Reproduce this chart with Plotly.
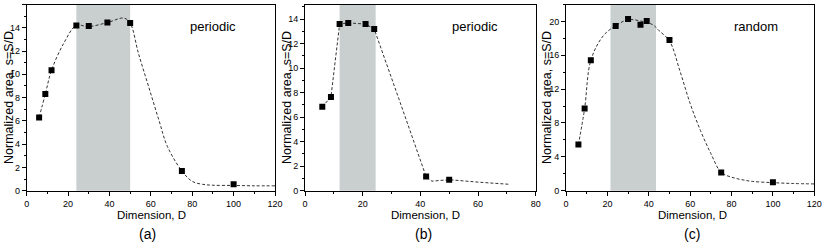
import plotly.graph_objects as go

# ---------------- data ----------------
# panel (a) periodic
a_D = [6, 9, 12, 24, 30, 39, 50, 75, 100]
a_s = [6.3, 8.3, 10.35, 14.2, 14.15, 14.45, 14.4, 1.7, 0.55]
a_curve_D = [6, 9, 12, 18, 24, 30, 39, 47, 50, 54, 59, 64, 68, 75, 80, 85, 90, 100, 110, 120]
a_curve_s = [6.3, 8.3, 10.35, 12.7, 14.2, 14.1, 14.45, 14.83, 14.4, 11.8, 8.9, 6.0, 3.8, 1.7, 0.8, 0.55, 0.47, 0.45, 0.42, 0.42]
a_band = [24, 50]

# panel (b) periodic
b_D = [6, 9, 12, 15, 21, 24, 42, 50]
b_s = [6.85, 7.65, 13.6, 13.7, 13.6, 13.2, 1.15, 0.9]
b_curve_D = [6, 9, 12, 15, 21, 24, 33, 42, 44, 50, 60, 71]
b_curve_s = [6.85, 7.65, 13.6, 13.7, 13.6, 13.2, 7.2, 1.15, 0.78, 0.9, 0.7, 0.52]
b_band = [12, 24.5]

# panel (c) random
c_D = [6, 9, 12, 24, 30, 36, 39, 50, 75, 100]
c_s = [5.45, 9.7, 15.4, 19.45, 20.3, 19.6, 20.05, 17.8, 2.15, 1.0]
c_curve_D = [6, 9, 12, 18, 24, 30, 36, 42, 45, 50, 55, 60, 65, 70, 75, 80, 85, 90, 100, 110, 120]
c_curve_s = [5.45, 9.7, 15.4, 18.3, 19.5, 20.2, 20.05, 19.6, 18.9, 17.7, 14.2, 10.3, 7.1, 4.4, 2.15, 1.6, 1.3, 1.1, 0.95, 0.85, 0.8]
c_band = [21.5, 43.5]

panel_titles = ["periodic", "periodic", "random"]
panel_labels = ["(a)", "(b)", "(c)"]
x_title = "Dimension, D"
y_title = "Normalized area, s=S/D"

# ---------------- layout geometry ----------------
W, H = 822, 244
FONT = "Liberation Sans, Arial, sans-serif"
xdom_px = [(26.7, 275.0), (305.0, 535.7), (566.0, 814.3)]
ydom_px = (4.5, 190.7)
xranges = [[0, 120], [0, 80], [0, 120]]
yranges = [[0, 16], [0, 15.2], [0, 22]]
xdticks = [20, 20, 20]
ydticks = [2, 2, 4]
ytitle_x = [9, 287, 547]
xtitle_x = [151, 425, 692]
lab_x = [147, 423, 692]
ann_pos = [(213, 26), (475, 26), (756, 26)]

fig = go.Figure()

panels = [
    (a_D, a_s, a_curve_D, a_curve_s, a_band, "spline"),
    (b_D, b_s, b_curve_D, b_curve_s, b_band, "linear"),
    (c_D, c_s, c_curve_D, c_curve_s, c_band, "spline"),
]

ydom = [1 - ydom_px[1] / H, 1 - ydom_px[0] / H]
shapes = []
annotations = []


def ann(text, px, py, size, angle=0):
    return dict(text=text, x=px / W, y=1 - py / H, xref="paper", yref="paper",
                xanchor="center", yanchor="middle", showarrow=False, textangle=angle,
                font=dict(family=FONT, size=size, color="#000000"))


for i, (D, s, cD, cs, band, shape) in enumerate(panels):
    sfx = "" if i == 0 else str(i + 1)
    xa, ya = "x" + sfx, "y" + sfx
    fig.add_trace(go.Scatter(
        x=cD, y=cs, mode="lines", xaxis=xa, yaxis=ya,
        line=dict(color="#333333", width=1, dash="3px,2px", shape=shape, smoothing=1.0),
        hoverinfo="skip", showlegend=False))
    fig.add_trace(go.Scatter(
        x=D, y=s, mode="markers", xaxis=xa, yaxis=ya,
        marker=dict(symbol="square", size=6, color="#000000"),
        showlegend=False))
    shapes.append(dict(type="rect", xref=xa, yref=ya + " domain", x0=band[0], x1=band[1],
                       y0=0, y1=1, fillcolor="#c9cecf", line=dict(width=0), layer="below"))
    xd = [xdom_px[i][0] / W, xdom_px[i][1] / W]
    common = dict(showline=True, linecolor="#000000", linewidth=1, mirror=True,
                  ticks="outside", ticklen=4, tickcolor="#000000", tickwidth=1,
                  showgrid=False, zeroline=False, automargin=False,
                  tickfont=dict(family=FONT, size=9, color="#000000"))
    fig.layout["xaxis" + sfx] = dict(
        domain=xd, range=xranges[i], anchor=ya, dtick=xdticks[i], tick0=0,
        minor=dict(ticks="outside", ticklen=2, tickcolor="#000000", dtick=xdticks[i] / 2, showgrid=False),
        **common)
    fig.layout["yaxis" + sfx] = dict(
        domain=ydom, range=yranges[i], anchor=xa, dtick=ydticks[i], tick0=0,
        minor=dict(ticks="outside", ticklen=2, tickcolor="#000000", dtick=ydticks[i] / 2, showgrid=False),
        **common)
    annotations.append(ann(panel_titles[i], ann_pos[i][0], ann_pos[i][1], 13))
    annotations.append(ann(y_title, ytitle_x[i], 98, 12.5, -90))
    annotations.append(ann(x_title, xtitle_x[i], 215, 11.5))
    annotations.append(ann(panel_labels[i], lab_x[i], 234, 14))

fig.update_layout(
    width=W, height=H, margin=dict(l=0, r=0, t=0, b=0),
    paper_bgcolor="white", plot_bgcolor="white",
    shapes=shapes, annotations=annotations, showlegend=False,
)

fig.write_html("out.html", config={"displayModeBar": False},
               post_script="document.body.style.margin='0';")
